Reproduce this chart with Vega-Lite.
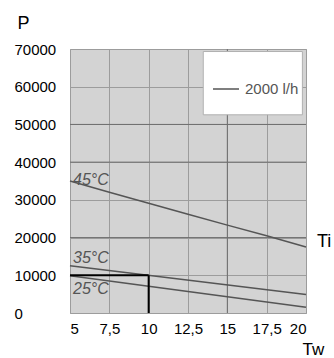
{
  "$schema": "https://vega.github.io/schema/vega-lite/v6.json",
  "width": 236,
  "height": 264,
  "autosize": {"type": "none"},
  "padding": {"left": 70, "top": 49, "right": 28, "bottom": 45},
  "background": "white",
  "config": {
    "font": "Liberation Sans",
    "view": {"fill": "#d3d3d3", "stroke": "#a8a8a8"},
    "axis": {"gridColor": "#9c9c9c", "gridWidth": 1, "gridOpacity": 1, "domain": false, "ticks": false, "tickSize": 0, "labelOverlap": false, "labelFontSize": 15, "labelColor": "#000", "titleFontSize": 18, "titleFontWeight": "normal", "titleColor": "#000"}
  },
  "datasets": {
    "curves": [
      {"Tw": 5, "P": 35000, "temp": "45°C", "flow": "2000 l/h"},
      {"Tw": 7.5, "P": 32000, "temp": "45°C", "flow": "2000 l/h"},
      {"Tw": 10, "P": 29100, "temp": "45°C", "flow": "2000 l/h"},
      {"Tw": 12.5, "P": 26200, "temp": "45°C", "flow": "2000 l/h"},
      {"Tw": 15, "P": 23300, "temp": "45°C", "flow": "2000 l/h"},
      {"Tw": 17.5, "P": 20500, "temp": "45°C", "flow": "2000 l/h"},
      {"Tw": 20, "P": 17500, "temp": "45°C", "flow": "2000 l/h"},
      {"Tw": 5, "P": 12500, "temp": "35°C", "flow": "2000 l/h"},
      {"Tw": 20, "P": 4900, "temp": "35°C", "flow": "2000 l/h"},
      {"Tw": 5, "P": 9900, "temp": "25°C", "flow": "2000 l/h"},
      {"Tw": 20, "P": 1500, "temp": "25°C", "flow": "2000 l/h"}
    ],
    "labels": [
      {"Tw": 5, "P": 34000, "label": "45°C"},
      {"Tw": 5, "P": 13200, "label": "35°C"},
      {"Tw": 5, "P": 5000, "label": "25°C"}
    ],
    "marker": [
      {"Tw": 5, "P": 10000, "Tw2": 10, "P2": 10000},
      {"Tw": 10, "P": 10000, "Tw2": 10, "P2": 0}
    ],
    "darkGrid": [
      {"Tw": 5, "P": 20000, "Tw2": 20, "P2": 20000},
      {"Tw": 5, "P": 40000, "Tw2": 20, "P2": 40000},
      {"Tw": 5, "P": 50000, "Tw2": 20, "P2": 50000},
      {"Tw": 15, "P": 0, "Tw2": 15, "P2": 70000}
    ],
    "box": [{"Tw": 13.47, "Tw2": 19.77, "P": 69330, "P2": 52550}],
    "ti": [{"Tw": 20, "P": 20000, "label": "Ti"}]
  },
  "encoding": {
    "x": {"field": "Tw", "type": "quantitative", "scale": {"domain": [5, 20], "nice": false, "zero": false},
      "axis": {"values": [5, 7.5, 10, 12.5, 15, 17.5, 20], "labelExpr": "replace(format(datum.value, '.1~f'), '.', ',')", "labelPadding": 8, "title": "Tw", "titleX": 232, "titleY": 41, "titleAlign": "left", "titleBaseline": "alphabetic", "titleFontSize": 17}},
    "y": {"field": "P", "type": "quantitative", "scale": {"domain": [0, 70000], "nice": false},
      "axis": {"values": [0, 10000, 20000, 30000, 40000, 50000, 60000, 70000], "format": "d", "labelAlign": "left", "labelPadding": 56, "title": "P", "titleAngle": 0, "titleX": -53, "titleY": -21, "titleAlign": "left", "titleBaseline": "alphabetic"}}
  },
  "layer": [
    {
      "data": {"name": "darkGrid"},
      "mark": {"type": "rule", "color": "#6e6e6e", "strokeWidth": 1},
      "encoding": {"x2": {"field": "Tw2"}, "y2": {"field": "P2"}}
    },
    {
      "data": {"name": "box"},
      "mark": {"type": "rect", "fill": "white", "stroke": "#b0b0b0", "strokeWidth": 1},
      "encoding": {"x2": {"field": "Tw2"}, "y2": {"field": "P2"}}
    },
    {
      "data": {"name": "curves"},
      "mark": {"type": "line", "strokeWidth": 1.5},
      "encoding": {
        "detail": {"field": "temp"},
        "color": {"field": "flow", "type": "nominal", "scale": {"range": ["#555555"]},
          "legend": {"title": null, "orient": "none", "legendX": 142, "legendY": 26, "padding": 0, "symbolType": "stroke", "symbolSize": 676, "symbolStrokeWidth": 1.5, "symbolStrokeColor": "#9a9a9a", "labelFontSize": 15, "labelColor": "#555", "labelOffset": 5}}
      }
    },
    {
      "data": {"name": "marker"},
      "mark": {"type": "rule", "color": "#000", "strokeWidth": 2},
      "encoding": {"x2": {"field": "Tw2"}, "y2": {"field": "P2"}}
    },
    {
      "data": {"name": "labels"},
      "mark": {"type": "text", "align": "left", "baseline": "alphabetic", "dx": 3, "fontSize": 16, "fontStyle": "italic", "color": "#555"},
      "encoding": {"text": {"field": "label"}}
    },
    {
      "data": {"name": "ti"},
      "mark": {"type": "text", "align": "left", "baseline": "middle", "dx": 11, "dy": 4, "fontSize": 18, "color": "#000"},
      "encoding": {"text": {"field": "label"}}
    }
  ]
}
